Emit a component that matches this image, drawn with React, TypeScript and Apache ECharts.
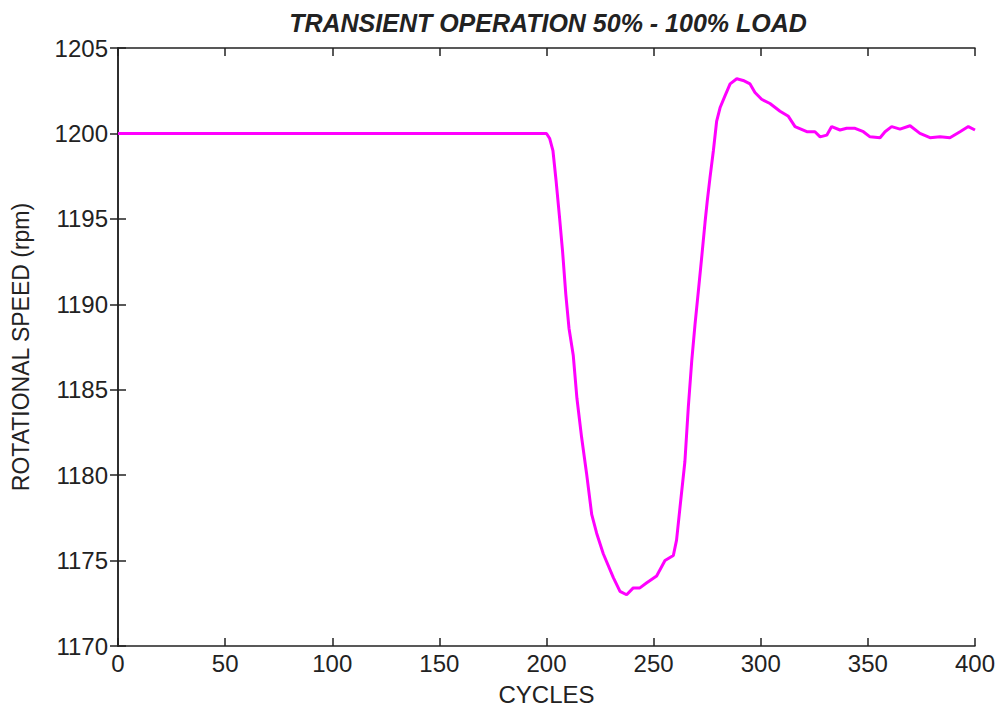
import React, { useEffect, useRef } from "react";
import * as echarts from "echarts";

const cycles = [0, 200, 201.5, 203, 204.5, 206, 207.5, 209, 210.5, 212.5, 214.2, 216.4, 218.7, 221.1, 223.4, 226.5, 231.2, 234.3, 237.4, 240.5, 243.6, 246.8, 251.4, 255.3, 259.2, 260.7, 262.3, 264.6, 266.2, 267.8, 269.3, 270.9, 272.4, 274.0, 275.0, 276.3, 277.9, 279.4, 281.0, 283.3, 285.7, 288.8, 291.8, 295.0, 297.3, 300.4, 304.3, 309.0, 312.9, 316.0, 321.5, 325.3, 327.7, 330.8, 333.1, 337.0, 340.1, 344.0, 347.9, 351.0, 355.7, 358.0, 361.1, 365.0, 369.7, 374.3, 379.0, 383.7, 388.3, 393.0, 396.9, 400];
const speeds = [1200, 1200, 1199.7, 1199.0, 1197.2, 1195.2, 1193.1, 1190.6, 1188.6, 1187.0, 1184.5, 1182.2, 1180.1, 1177.7, 1176.6, 1175.4, 1174.0, 1173.2, 1173.0, 1173.4, 1173.4, 1173.7, 1174.1, 1175.0, 1175.3, 1176.2, 1178.1, 1180.8, 1184.0, 1186.7, 1188.8, 1190.8, 1192.7, 1194.8, 1196.0, 1197.4, 1199.0, 1200.7, 1201.5, 1202.2, 1202.9, 1203.2, 1203.1, 1202.9, 1202.4, 1202.0, 1201.75, 1201.3, 1201.0, 1200.4, 1200.1, 1200.1, 1199.8, 1199.9, 1200.4, 1200.2, 1200.3, 1200.3, 1200.1, 1199.8, 1199.75, 1200.1, 1200.4, 1200.25, 1200.45, 1200.0, 1199.75, 1199.8, 1199.75, 1200.1, 1200.4, 1200.2];

const titleText = "TRANSIENT OPERATION 50% - 100% LOAD";
const xName = "CYCLES";
const yName = "ROTATIONAL SPEED (rpm)";

export default function App() {
  const ref = useRef<HTMLDivElement>(null);
  useEffect(() => {
    document.body.style.margin = "0";
    const chart = echarts.init(ref.current!, null, { renderer: "svg" });
    const font = "'Liberation Sans', Arial, sans-serif";
    const txt = "#222";
    const axisLine = { show: true, lineStyle: { color: "#222", width: 1.5 } };
    const tick = { show: true, inside: true, length: 8, lineStyle: { color: "#222", width: 1.5 } };
    chart.setOption({
      animation: false,
      backgroundColor: "#fff",
      title: {
        text: titleText,
        left: 543,
        textAlign: "center",
        top: 5,
        textStyle: { fontFamily: font, fontSize: 25, fontWeight: "bold", fontStyle: "italic", color: txt },
      },
      grid: { left: 118, right: 24, top: 48, bottom: 62, containLabel: false, outerBoundsMode: "none" },
      xAxis: [
        {
          type: "value", min: 0, max: 400, interval: 50, position: "bottom",
          name: xName, nameLocation: "middle", nameGap: 36,
          nameTextStyle: { fontFamily: font, fontSize: 24, color: txt },
          axisLine, axisTick: tick, splitLine: { show: false },
          axisLabel: { fontFamily: font, fontSize: 24, color: txt, margin: 5, formatter: (v: number) => String(v) },
        },
        {
          type: "value", min: 0, max: 400, interval: 50, position: "top",
          axisLine, axisTick: tick, splitLine: { show: false }, axisLabel: { show: false },
        },
      ],
      yAxis: [
        {
          type: "value", min: 1170, max: 1205, interval: 5, position: "left",
          name: yName, nameLocation: "middle", nameGap: 86, nameRotate: 90,
          nameTextStyle: { fontFamily: font, fontSize: 23, color: txt },
          axisLine, axisTick: tick, splitLine: { show: false },
          axisLabel: { fontFamily: font, fontSize: 24, color: txt, margin: 10, formatter: (v: number) => String(v) },
        },
        {
          type: "value", min: 1170, max: 1205, interval: 5, position: "right",
          axisLine, axisTick: tick, splitLine: { show: false }, axisLabel: { show: false },
        },
      ],
      series: [
        {
          type: "line",
          data: cycles.map((c, i) => [c, speeds[i]]),
          showSymbol: false,
          lineStyle: { color: "#ff00ff", width: 3 },
          itemStyle: { color: "#ff00ff" },
        },
      ],
    });
    return () => chart.dispose();
  }, []);
  return <div ref={ref} style={{ width: 999, height: 708 }} />;
}
